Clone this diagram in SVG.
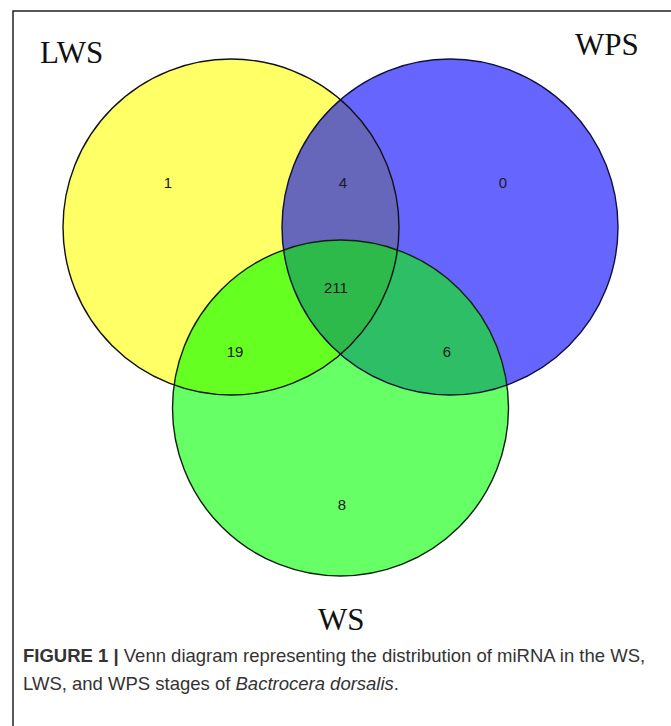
<svg xmlns="http://www.w3.org/2000/svg" width="671" height="726" viewBox="0 0 671 726">
<defs>
<style>
.lbl{font-family:"Liberation Serif","Times New Roman",serif;font-size:31px;fill:#111;}
.num{font-family:"Liberation Sans",Arial,sans-serif;font-size:15px;fill:#1a1a1a;text-anchor:middle;}
.cap{font-family:"Liberation Sans",Arial,sans-serif;font-size:18.5px;fill:#333;}
.edge{fill:none;stroke-width:1.4;}
</style>
<clipPath id="cY"><circle cx="231" cy="227" r="168"/></clipPath>
<clipPath id="cB"><circle cx="450" cy="227" r="168"/></clipPath>
<clipPath id="cG"><circle cx="340.5" cy="408" r="168"/></clipPath>
</defs>
<rect width="671" height="726" fill="#fff"/>
<path d="M13 726 V11 H671" fill="none" stroke="#222" stroke-width="1.5"/>
<g id="LWS">
<circle cx="231" cy="227" r="168" fill="#ffff66"/>
</g>
<g id="WPS">
<circle cx="450" cy="227" r="168" fill="#6666ff"/>
</g>
<g id="WS">
<circle cx="340.5" cy="408" r="168" fill="#66ff66"/>
</g>
<g id="overlaps">
<circle cx="450" cy="227" r="168" fill="#6666bb" clip-path="url(#cY)"/>
<circle cx="340.5" cy="408" r="168" fill="#66ff22" clip-path="url(#cY)"/>
<g clip-path="url(#cB)">
<circle cx="340.5" cy="408" r="168" fill="#2ebf66"/>
<circle cx="231" cy="227" r="168" fill="#2dba4a" clip-path="url(#cG)"/>
</g>
</g>
<g id="edges">
<circle class="edge" cx="231" cy="227" r="168" stroke="#111"/>
<circle class="edge" cx="450" cy="227" r="168" stroke="#101040"/>
<circle class="edge" cx="340.5" cy="408" r="168" stroke="#102010"/>
</g>
<g id="labels">
<text class="lbl" x="40" y="63">LWS</text>
<text class="lbl" x="575" y="55">WPS</text>
<text class="lbl" x="318" y="630">WS</text>
</g>
<g id="counts">
<text class="num" x="168" y="188">1</text>
<text class="num" x="343" y="188">4</text>
<text class="num" x="503" y="188">0</text>
<text class="num" x="336" y="293">211</text>
<text class="num" x="235" y="357">19</text>
<text class="num" x="447" y="357">6</text>
<text class="num" x="342" y="510">8</text>
</g>
<g id="caption">
<text class="cap" x="23" y="662"><tspan font-weight="bold">FIGURE 1 |</tspan> Venn diagram representing the distribution of miRNA in the WS,</text>
<text class="cap" x="23" y="690">LWS, and WPS stages of <tspan font-style="italic">Bactrocera dorsalis</tspan>.</text>
</g>
</svg>
